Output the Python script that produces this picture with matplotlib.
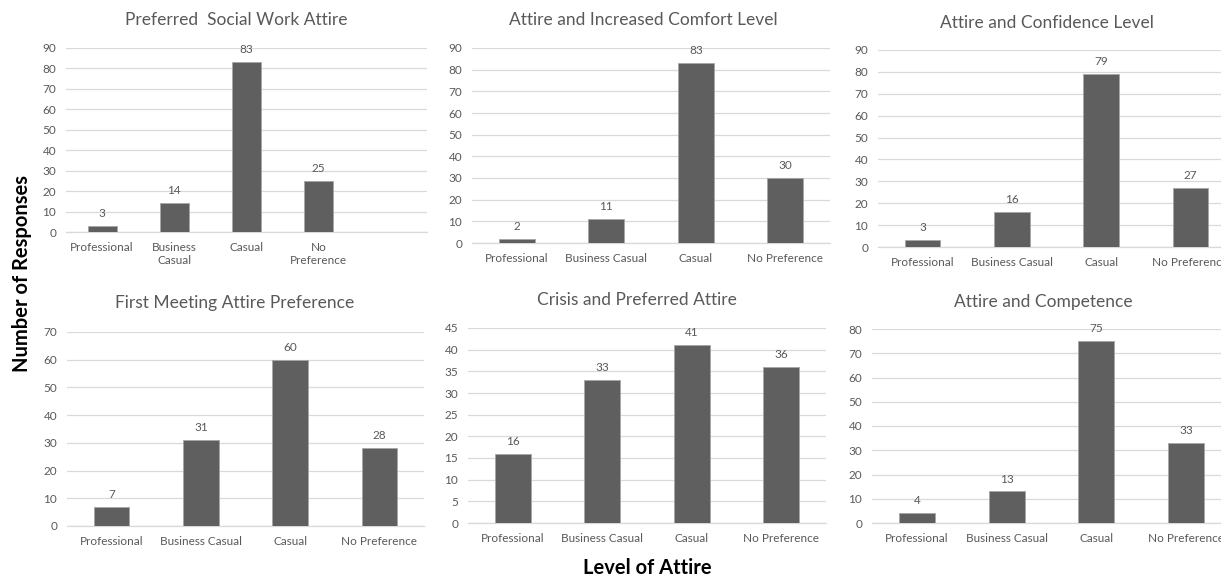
import matplotlib
matplotlib.use("Agg")
import matplotlib.pyplot as plt

plt.rcParams['font.family'] = ['Lato', 'DejaVu Sans']

# Survey responses, one chart per question
categories = ["Professional", "Business Casual", "Casual", "No Preference"]
categories_wrapped = ["Professional", "Business\nCasual", "Casual", "No\nPreference", ""]

titles = [
    "Preferred  Social Work Attire",
    "Attire and Increased Comfort Level",
    "Attire and Confidence Level",
    "First Meeting Attire Preference",
    "Crisis and Preferred Attire",
    "Attire and Competence",
]

preferred_attire = [3, 14, 83, 25]
comfort_level = [2, 11, 83, 30]
confidence_level = [3, 16, 79, 27]
first_meeting = [7, 31, 60, 28]
crisis = [16, 33, 41, 36]
competence = [4, 13, 75, 33]

y_max = [90, 90, 90, 70, 45, 80]
y_step = [10, 10, 10, 10, 5, 10]

W, H = 1221, 579
fig = plt.figure(figsize=(W / 100, H / 100), dpi=100)
fig.patch.set_facecolor("white")

# axes boxes in pixels: left, right, top (y of max), bottom (y of zero)
boxes = [
    (66, 427, 48, 232),
    (472, 830, 48, 243),
    (878, 1235, 50, 247),
    (67, 424, 332, 526),
    (468, 826, 328, 523),
    (872, 1231, 329, 523),
]
title_centers = [236, 643, 1047, 235, 637, 1043]
title_y = [20, 20, 23, 303, 300, 302]

series = [preferred_attire, comfort_level, confidence_level,
          first_meeting, crisis, competence]

TEXT = "#595959"
BAR = "#5f5f5f"
GRID = "#d9d9d9"

for i, (vals, box) in enumerate(zip(series, boxes)):
    l, r, t, b = box
    ax = fig.add_axes([l / W, (H - b) / H, (r - l) / W, (b - t) / H])
    labels = categories_wrapped if i == 0 else categories
    xs = list(range(len(labels)))
    ax.set_xlim(-0.5, len(labels) - 0.5)
    bars = ax.bar(range(len(vals)), vals, width=0.4, color=BAR,
                  edgecolor="#a6a6a6", linewidth=0.6, zorder=3)
    for rect, v in zip(bars, vals):
        ax.annotate(str(v), (rect.get_x() + rect.get_width() / 2, v),
                    xytext=(0, 5), textcoords="offset points",
                    ha="center", va="bottom", fontsize=8.5, color=TEXT)
    ax.set_ylim(0, y_max[i])
    ax.set_yticks(range(0, y_max[i] + 1, y_step[i]))
    ax.set_xticks(xs)
    ax.set_xticklabels(labels, fontsize=8.5, color=TEXT, linespacing=1.25)
    ax.tick_params(axis="y", labelsize=8.5, labelcolor=TEXT, length=0, pad=7)
    ax.tick_params(axis="x", length=0, pad=7)
    ax.grid(axis="y", color=GRID, linewidth=0.9, zorder=0)
    ax.set_axisbelow(True)
    for s in ["top", "right", "left"]:
        ax.spines[s].set_visible(False)
    ax.spines["bottom"].set_color(GRID)
    ax.spines["bottom"].set_linewidth(0.9)
    ax.set_facecolor("none")
    fig.text(title_centers[i] / W, 1 - title_y[i] / H, titles[i],
             ha="center", va="center", fontsize=12.5, color=TEXT)

fig.text(22 / W, 1 - 274 / H, "Number of Responses", rotation=90,
         ha="center", va="center", fontsize=14.5, fontweight="bold", color="black")
fig.text(647 / W, 1 - 568 / H, "Level of Attire", ha="center", va="center",
         fontsize=14.5, fontweight="bold", color="black")

fig.savefig("out.png", dpi=100)
